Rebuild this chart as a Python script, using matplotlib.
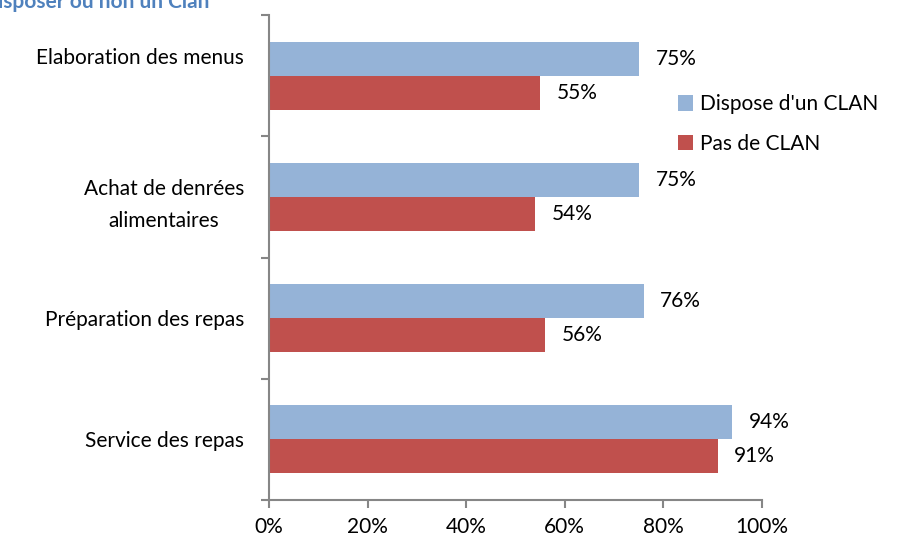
import matplotlib
matplotlib.use("Agg")
import matplotlib.pyplot as plt
import matplotlib.transforms as mtransforms
import numpy as np

plt.rcParams['font.family'] = ['Lato', 'DejaVu Sans']

categories = ["Service des repas", "Préparation des repas",
              "Achat de denrées\nalimentaires", "Elaboration des menus"]
clan = [0.94, 0.76, 0.75, 0.75]
no_clan = [0.91, 0.56, 0.54, 0.55]
series_names = ["Dispose d'un CLAN", "Pas de CLAN"]
xticks = [0, 0.2, 0.4, 0.6, 0.8, 1.0]

blue = "#95B3D7"
red = "#C0504D"
grey = "#868686"
fs = 15

fig = plt.figure(figsize=(9.06, 5.44), dpi=100)
ax = fig.add_axes([0.297, 0.081, 0.544, 0.891])

y = np.arange(len(categories))
h = 0.28
b1 = ax.barh(y + h / 2, clan, height=h, color=blue, label=series_names[0])
b2 = ax.barh(y - h / 2, no_clan, height=h, color=red, label=series_names[1])

ax.bar_label(b1, labels=[f"{v:.0%}" for v in clan], padding=12, fontsize=fs)
ax.bar_label(b2, labels=[f"{v:.0%}" for v in no_clan], padding=12, fontsize=fs)

ax.set_xlim(0, 1)
ax.set_ylim(-0.5, len(categories) - 0.5)
ax.set_xticks(xticks)
ax.set_xticklabels([f"{v:.0%}" for v in xticks], fontsize=fs)
ax.set_yticks(y)
ax.set_yticklabels(categories, fontsize=fs, multialignment='center', linespacing=1.75)
ax.set_yticks(np.arange(-0.5, len(categories)), minor=True)

ax.tick_params(axis='y', which='major', length=0, pad=18)
ax.tick_params(axis='y', which='minor', length=6, width=1.5, color=grey, direction='out')
ax.tick_params(axis='x', length=6, width=1.5, color=grey, direction='out', pad=6)

for s in ['top', 'right']:
    ax.spines[s].set_visible(False)
for s in ['left', 'bottom']:
    ax.spines[s].set_color(grey)
    ax.spines[s].set_linewidth(1.5)

# top label sits a bit higher in the original
lab = ax.get_yticklabels()[-1]
lab.set_transform(lab.get_transform() + mtransforms.ScaledTranslation(0, 20 / 100, fig.dpi_scale_trans))

fig.legend(handles=[b1, b2], loc='upper left', bbox_to_anchor=(0.739, 0.842),
           frameon=False, fontsize=fs, handlelength=0.75, handleheight=0.75,
           handletextpad=0.3, labelspacing=0.95, borderaxespad=0)

fig.text(-0.002, 1 - 8 / 544, "isposer ou non un Clan", color="#4F81BD",
         fontsize=15, fontweight='bold', va='baseline', ha='left')

fig.savefig("out.png", dpi=100)
